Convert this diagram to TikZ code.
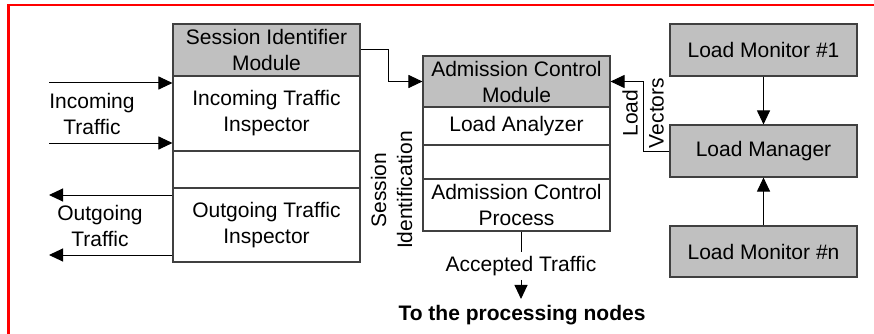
\documentclass[tikz,border=0pt]{standalone}
\usepackage{fontspec}
\setmainfont{Liberation Sans}
\usetikzlibrary{arrows.meta,calc}
\definecolor{boxgray}{RGB}{192,192,192}
\definecolor{boxline}{RGB}{64,64,64}
\definecolor{framered}{RGB}{255,0,0}
\tikzset{
  txt/.style={font=\fontsize{21}{26}\selectfont, align=center},
  part/.style={draw=boxline, line width=1.1pt, minimum width=187pt, inner sep=0pt, txt},
  head/.style={part, fill=boxgray},
  conn/.style={line width=1pt, black},
  arr/.style={conn, -{Triangle[length=14pt,width=13pt]}},
}
\begin{document}
\begin{tikzpicture}[x=1pt,y=-1pt]
\useasboundingbox (0,0) rectangle (874,334);
% red frame (left and top edges)
\draw[framered, line width=2.5pt] (8.5,334) -- (8.5,5) -- (874,5);

% session identifier stack
\node[head, minimum height=52pt] (sid)  at (266.5,50)    {Session Identifier\\Module};
\node[part, minimum height=75pt] (iti)  at (266.5,113.5) {Incoming Traffic\\Inspector};
\node[part, minimum height=37pt] (sgap) at (266.5,169.5) {};
\node[part, minimum height=74pt] (oti)  at (266.5,225)   {Outgoing Traffic\\Inspector};

% admission control stack
\node[head, minimum height=51pt] (acm)  at (516.5,81.5) {Admission Control\\Module};
\node[part, minimum height=38pt] (la)   at (516.5,126)  {Load Analyzer};
\node[part, minimum height=34pt] (agap) at (516.5,162)  {};
\node[part, minimum height=52pt] (acp)  at (516.5,205)  {Admission Control\\Process};

% load monitoring
\node[head, minimum height=52pt] (lm1)  at (763.5,50)    {Load Monitor \#1};
\node[head, minimum height=52pt] (lman) at (763.5,151)   {Load Manager};
\node[head, minimum height=51pt] (lmn)  at (763.5,251.5) {Load Monitor \#n};

% labels
\node[txt] (inlab)  at (92,113.5) {Incoming\\Traffic};
\node[txt] (outlab) at (100,225.5) {Outgoing\\Traffic};
\node[txt, rotate=90] (sidlab) at (391.5,190) {Session\\Identification};
\node[txt, rotate=90] (lvlab)  at (643,113) {Load\\Vectors};
\node[txt, inner sep=4pt] (acc) at (521,266) {Accepted Traffic};
\node[txt, font=\fontsize{21}{26}\selectfont\bfseries, inner sep=6pt] (dest) at (522,315) {To the processing nodes};

% traffic in and out
\coordinate (in1) at (49,83);
\coordinate (in2) at (49,143);
\coordinate (out1) at (49,195);
\coordinate (out2) at (49,255);
\draw[arr] (in1) -- (in1 -| iti.west);
\draw[arr] (in2) -- (in2 -| iti.west);
\draw[arr] (out1 -| oti.west) -- (out1);
\draw[arr] (out2 -| oti.west) -- (out2);

% session identification to admission control
\draw[arr] (sid.east) -- ++(28,0) |- (acm.west);

% load vectors to admission control
\coordinate (lvbend) at (643,151);
\draw[arr] (lman.west) -- (lvbend) |- (acm.east);

% monitors to manager
\draw[arr] (lm1) -- (lman);
\draw[arr] (lmn) -- (lman);

% accepted traffic
\draw[conn] (acp.south -| acc) -- (acc.north);
\draw[arr] (acc.south) -- (acc.south |- dest.north);
\end{tikzpicture}
\end{document}
